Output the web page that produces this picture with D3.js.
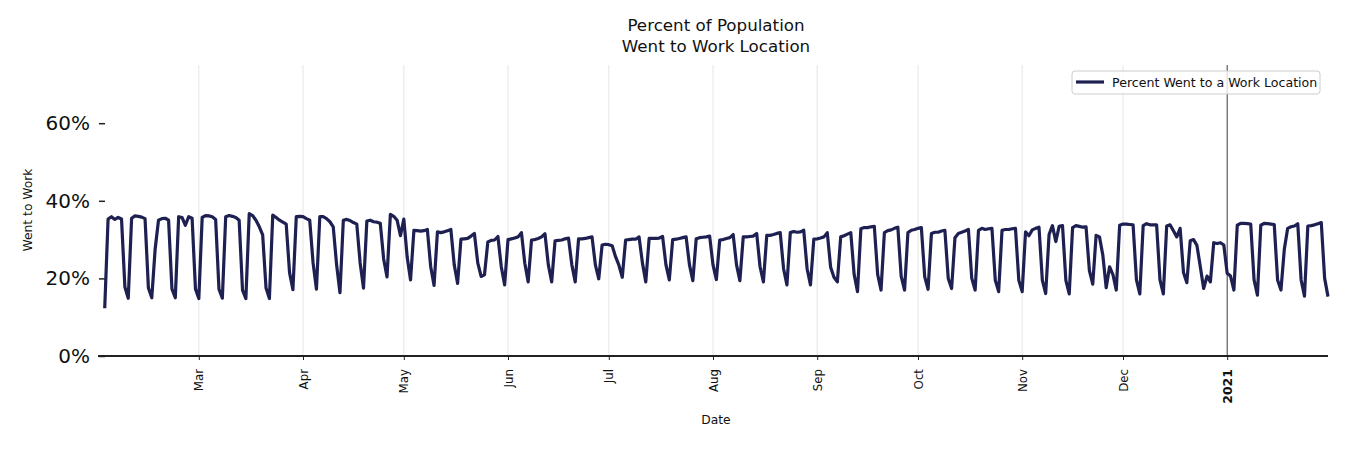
<!DOCTYPE html>
<html>
<head>
<meta charset="utf-8">
<script src="https://cdn.jsdelivr.net/npm/d3@7"></script>
<style>
  html, body { margin: 0; padding: 0; background: #fff; }
  svg { display: block; font-family: "DejaVu Sans", sans-serif; }
</style>
</head>
<body>
<svg id="chart" width="1350" height="450"></svg>
<script>
// ---- Data ----
const startDate = "2020-02-02"; // first observation (Sunday)
// Daily percent of population that went to a work location, Feb 2 2020 – Jan 31 2021
const workPct = [
  12.3, 35.3, 35.9, 35.2, 35.7, 35.3, 17.8,
  14.9, 35.5, 36.1, 36.0, 35.8, 35.4, 17.5,
  15.0, 27.5, 35.0, 35.4, 35.5, 35.0, 17.3,
  15.0, 35.9, 35.7, 33.7, 35.9, 35.5, 17.3,
  14.8, 35.7, 36.2, 36.1, 35.9, 35.2, 17.2,
  14.9, 35.9, 36.2, 36.0, 35.7, 35.0, 17.0,
  14.8, 36.7, 36.2, 35.0, 33.3, 31.2, 17.5,
  14.8, 36.3, 35.7, 35.0, 34.5, 34.0, 21.5,
  17.1, 35.9, 36.0, 35.9, 35.4, 35.0, 24.0,
  17.2, 35.9, 35.9, 35.4, 34.6, 33.3, 23.5,
  16.3, 35.0, 35.2, 34.9, 34.4, 34.0, 24.0,
  17.5, 34.8, 35.0, 34.6, 34.5, 34.2, 25.0,
  20.4, 36.5, 36.0, 35.0, 31.0, 35.3, 25.5,
  19.6, 32.4, 32.3, 32.2, 32.3, 32.6, 23.0,
  18.2, 32.0, 31.8, 32.0, 32.3, 32.6, 23.5,
  18.7, 30.1, 30.2, 30.3, 30.9, 31.6, 24.0,
  20.5, 20.9, 29.4, 29.8, 29.9, 30.8, 23.0,
  18.3, 30.0, 30.2, 30.4, 30.7, 31.8, 23.9,
  19.1, 29.9, 30.0, 30.3, 30.7, 31.5, 23.5,
  19.1, 29.7, 29.8, 29.9, 30.2, 30.4, 23.5,
  19.1, 30.2, 30.2, 30.3, 30.5, 30.7, 23.5,
  19.9, 28.6, 28.8, 28.7, 28.4, 25.6, 23.4,
  20.3, 29.9, 30.0, 30.1, 30.1, 30.7, 24.0,
  19.1, 30.3, 30.3, 30.3, 30.4, 30.8, 23.5,
  19.6, 30.0, 30.1, 30.3, 30.5, 30.7, 23.5,
  19.4, 30.2, 30.5, 30.6, 30.7, 30.9, 23.5,
  19.7, 29.9, 30.0, 30.3, 30.5, 31.3, 23.5,
  19.4, 30.7, 30.7, 30.8, 30.9, 31.6, 23.0,
  19.1, 31.1, 31.1, 31.3, 31.6, 31.8, 22.5,
  18.3, 31.8, 32.1, 31.9, 32.0, 32.4, 22.5,
  18.3, 30.1, 30.2, 30.4, 30.7, 31.8, 22.9,
  20.3, 19.1, 30.7, 31.0, 31.4, 31.8, 21.0,
  16.6, 32.8, 33.1, 33.1, 33.3, 33.4, 21.0,
  17.0, 31.8, 32.3, 32.5, 32.9, 33.2, 20.5,
  17.0, 31.8, 32.4, 32.6, 32.9, 33.1, 20.4,
  17.2, 31.6, 31.9, 31.9, 32.2, 32.4, 20.0,
  17.4, 30.5, 31.6, 31.9, 32.2, 32.6, 20.0,
  17.0, 32.4, 32.9, 32.6, 32.8, 32.9, 19.5,
  16.6, 32.4, 32.6, 32.6, 32.8, 32.9, 19.5,
  16.6, 32.0, 31.0, 32.5, 32.9, 33.2, 19.5,
  16.1, 31.3, 33.6, 29.5, 33.4, 33.6, 19.5,
  16.0, 33.1, 33.6, 33.4, 33.2, 33.3, 22.0,
  18.5, 31.1, 30.7, 26.0, 17.6, 23.0, 21.0,
  17.0, 33.7, 34.0, 34.0, 33.9, 33.8, 19.6,
  16.0, 33.6, 34.1, 33.8, 33.8, 33.8, 19.6,
  16.0, 33.5, 33.8, 32.3, 30.7, 32.9, 21.5,
  18.9, 29.7, 30.0, 28.5, 23.0, 17.4, 20.6,
  19.1, 29.2, 29.0, 29.2, 28.6, 21.3, 20.6,
  17.0, 33.7, 34.2, 34.2, 34.1, 34.0, 19.6,
  15.7, 33.7, 34.2, 34.1, 34.0, 33.9, 19.6,
  17.0, 27.5, 32.9, 33.3, 33.5, 34.1, 19.6,
  15.4, 33.5, 33.6, 33.8, 34.1, 34.4, 20.0,
  15.3
];
const yTickValues = [0, 20, 40, 60];
const yTickLabels = ["0%", "20%", "40%", "60%"];
const xTickDates = ["2020-03-01","2020-04-01","2020-05-01","2020-06-01","2020-07-01","2020-08-01",
                    "2020-09-01","2020-10-01","2020-11-01","2020-12-01","2021-01-01"];
const xTickLabels = ["Mar","Apr","May","Jun","Jul","Aug","Sep","Oct","Nov","Dec","2021"];
const xDomain = ["2020-01-31", "2021-01-31"];
const yDomain = [0, 75];
const titleLines = ["Percent of Population", "Went to Work Location"];
const seriesName = "Percent Went to a Work Location";

(function () {
  const parse = d3.utcParse("%Y-%m-%d");
  const start = parse(startDate);
  const data = workPct.map((v, i) => ({ date: d3.utcDay.offset(start, i), value: v }));

  const svg = d3.select("#chart");
  const pL = 98, pR = 1328, pT = 65, pB = 356;
  const lineColor = "#1e2052";

  const x = d3.scaleUtc().domain(xDomain.map(parse)).range([pL, pR]);
  const y = d3.scaleLinear().domain(yDomain).range([pB, pT]);

  // vertical grid lines
  const tickDates = xTickDates.map(parse);
  svg.append("g").selectAll("line").data(tickDates).join("line")
    .attr("x1", d => x(d)).attr("x2", d => x(d))
    .attr("y1", pT).attr("y2", pB)
    .attr("stroke", (d, i) => i === tickDates.length - 1 ? "#3a3a3a" : "#e3e3e3")
    .attr("stroke-width", (d, i) => i === tickDates.length - 1 ? 1 : 0.9);

  // x axis
  const xAxis = d3.axisBottom(x).tickValues(tickDates)
    .tickFormat((d, i) => xTickLabels[i]).tickSize(4).tickSizeOuter(0);
  const gx = svg.append("g").attr("transform", `translate(0,${pB})`).call(xAxis);
  gx.select(".domain").attr("stroke", "#222").attr("stroke-width", 2)
    .attr("d", `M${pL},0H${pR}`);
  gx.selectAll(".tick line").attr("stroke", "#222").attr("stroke-width", 1);
  gx.selectAll(".tick text")
    .attr("font-family", "DejaVu Sans").attr("fill", "#111")
    .attr("font-size", (d, i) => i === xTickLabels.length - 1 ? 12.5 : 11.8)
    .attr("transform", "rotate(-90)")
    .attr("text-anchor", "end")
    .attr("x", -13).attr("y", 0).attr("dy", "0.35em")
    .attr("font-weight", (d, i) => i === xTickLabels.length - 1 ? "bold" : "normal");

  // y axis (no spine)
  const yAxis = d3.axisLeft(y).tickValues(yTickValues)
    .tickFormat((d, i) => yTickLabels[i]).tickSize(6).tickSizeOuter(0);
  const gy = svg.append("g").attr("transform", `translate(${pL + 7},0)`).call(yAxis);
  gy.select(".domain").remove();
  gy.selectAll(".tick line").attr("stroke", "#222").attr("stroke-width", 1.5);
  gy.selectAll(".tick text").attr("font-family", "DejaVu Sans").attr("font-size", 20)
    .attr("fill", "#111").attr("x", -15);

  // line
  const line = d3.line().x(d => x(d.date)).y(d => y(d.value));
  svg.append("path").datum(data)
    .attr("fill", "none").attr("stroke", lineColor).attr("stroke-width", 3.2)
    .attr("stroke-linejoin", "round").attr("d", line);

  // title
  svg.append("g").selectAll("text").data(titleLines).join("text")
    .attr("x", 716).attr("y", (d, i) => 31 + i * 21)
    .attr("text-anchor", "middle").attr("font-size", 16.7).attr("fill", "#111")
    .text(d => d);

  // axis labels
  svg.append("text").attr("x", 716).attr("y", 424).attr("text-anchor", "middle")
    .attr("font-size", 12.3).attr("fill", "#111").text("Date");
  svg.append("text").attr("transform", "translate(32,210) rotate(-90)")
    .attr("text-anchor", "middle").attr("font-size", 12.3).attr("fill", "#111").text("Went to Work");

  // legend
  const lg = svg.append("g");
  lg.append("rect").attr("x", 1072).attr("y", 71).attr("width", 248).attr("height", 23)
    .attr("rx", 3).attr("fill", "#fff").attr("fill-opacity", 0.8)
    .attr("stroke", "#cccccc").attr("stroke-width", 1);
  lg.append("line").attr("x1", 1076).attr("x2", 1104).attr("y1", 82).attr("y2", 82)
    .attr("stroke", lineColor).attr("stroke-width", 3.2);
  lg.append("text").attr("x", 1112).attr("y", 86.5).attr("font-size", 12.6).attr("fill", "#111")
    .text(seriesName);
})();
</script>
</body>
</html>
